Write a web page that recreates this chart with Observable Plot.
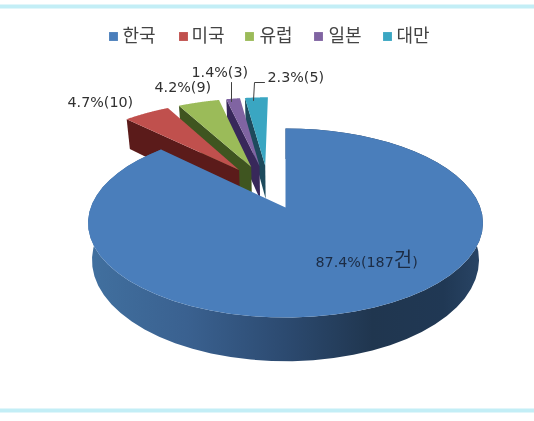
<!DOCTYPE html>
<html><head><meta charset="utf-8">
<script src="https://cdn.jsdelivr.net/npm/d3@7"></script>
<script src="https://cdn.jsdelivr.net/npm/@observablehq/plot@0.6"></script>
<style>html,body{margin:0;background:#fff}svg{display:block;filter:blur(.35px)}</style>
</head><body><div id="c"></div>
<script>
const categories = ["한국","미국","유럽","일본","대만"];
const counts = [187,10,9,3,5];
const labels = ["87.4%(187건)","4.7%(10)","4.2%(9)","1.4%(3)","2.3%(5)"];
const topColors = ["#4a7ebb","#c0504d","#9bbb59","#8064a2","#3aa6c2"];
const wallColors = ["url(#mw)","#5b1b1a","#3f5520","#38285a","#1d4a5c"];
const explode = [0.24,0.27,0.27,0.27,0.27];
const labelX = [315,67,154,191,267];
const labelY = [262,102,87,72,77];
const legendSwatchX = [113,183,249,318,387];
const legendTextX = [122,191,259,328,396];

const cx=285, cy=207, R=194.8, K=92, A=0.164, DEPTH=36, BY=1.07, BX=0.98;
const top_ = (u,v)=>({x:cx+R*u/(1+A*v), y:cy-K*v/(1+A*v)});
const low = p=>({x:cx+BX*(p.x-cx), y:cy+DEPTH+BY*(p.y-cy)});
const total = d3.sum(counts);
let acc=0;
const slices = counts.map((c,i)=>{const a0=acc/total*2*Math.PI; acc+=c; return {i,a0,a1:acc/total*2*Math.PI};});
const dir = s=>{const m=(s.a0+s.a1)/2; return [Math.sin(m),Math.cos(m)];};
const md = dir(slices[0]);
const off = slices.map((s,i)=>{const d=dir(s); return [d[0]*explode[i]-md[0]*explode[0], d[1]*explode[i]-md[1]*explode[0]];});
const arc = (s,o)=>d3.range(0,61).map(k=>{const a=s.a0+(s.a1-s.a0)*k/60; return top_(o[0]+Math.sin(a),o[1]+Math.cos(a));});
const marks = [];
const shape=(pts,fill)=>Plot.line([...pts,pts[0]],{x:"x",y:"y",fill,stroke:"none",curve:"linear"});
for (const s of slices.slice(1).reverse()) {
  const o=off[s.i], apex=top_(o[0],o[1]), pts=arc(s,o), corner=pts[0];
  marks.push(shape([apex,corner,low(corner),low(apex)],wallColors[s.i]));
  marks.push(shape([apex,...pts],topColors[s.i]));
}
const main=slices[0], mp=arc(main,off[0]);
marks.push(shape([...mp,...mp.map(low).reverse()],wallColors[0]));
marks.push(shape([top_(0,0),...mp],topColors[0]));

const frame=[{y:6},{y:410}];
const legend=categories.map((c,i)=>({c,i,y:36}));
const lab=labels.map((t,i)=>({t,x:labelX[i],y:labelY[i]}));
const font='"Noto Sans CJK KR","Noto Sans",sans-serif';
const svg=Plot.plot({
  width:534,height:421,margin:0,
  style:{background:"#fff",fontFamily:font},
  x:{domain:[0,534],range:[0,534],axis:null},
  y:{domain:[0,421],range:[0,421],axis:null},
  marks:[
    Plot.ruleY(frame,{y:"y",stroke:"#c3eef6",strokeWidth:4}),
    ...marks,
    Plot.line([{x:231,y:101},{x:231,y:82}],{x:"x",y:"y",stroke:"#404040",strokeWidth:1}),
    Plot.line([{x:253,y:100},{x:254,y:82},{x:264,y:82}],{x:"x",y:"y",stroke:"#404040",strokeWidth:1}),
    Plot.dot(legend,{x:d=>legendSwatchX[d.i],y:"y",symbol:"square",r:5,fill:d=>topColors[d.i],stroke:"none"}),
    Plot.text(legend,{x:d=>legendTextX[d.i],y:"y",text:"c",textAnchor:"start",fontSize:18,fill:"#444",style:{letterSpacing:"1.5px"}}),
    Plot.text(lab,{x:"x",y:"y",text:"t",textAnchor:"start",fontSize:14.3,fontFamily:'"DejaVu Sans"',fill:"#303030"})
  ]
});
svg.insertAdjacentHTML("afterbegin",'<defs><linearGradient id="mw" x1="0" x2="1" y1="0" y2="0"><stop offset="0" stop-color="#41709f"/><stop offset=".25" stop-color="#3a6190"/><stop offset=".5" stop-color="#2c4a70"/><stop offset=".72" stop-color="#20364f"/><stop offset=".9" stop-color="#203854"/><stop offset="1" stop-color="#294566"/></linearGradient></defs>');
svg.querySelectorAll("text").forEach(t=>{
  if(t.textContent.includes("건")){
    t.innerHTML='87.4%(187<tspan font-size="20" font-family="Noto Sans CJK KR">건</tspan>)';
    t.setAttribute("fill","#1c2c44");
  }
});
document.getElementById("c").append(svg);
</script></body></html>
